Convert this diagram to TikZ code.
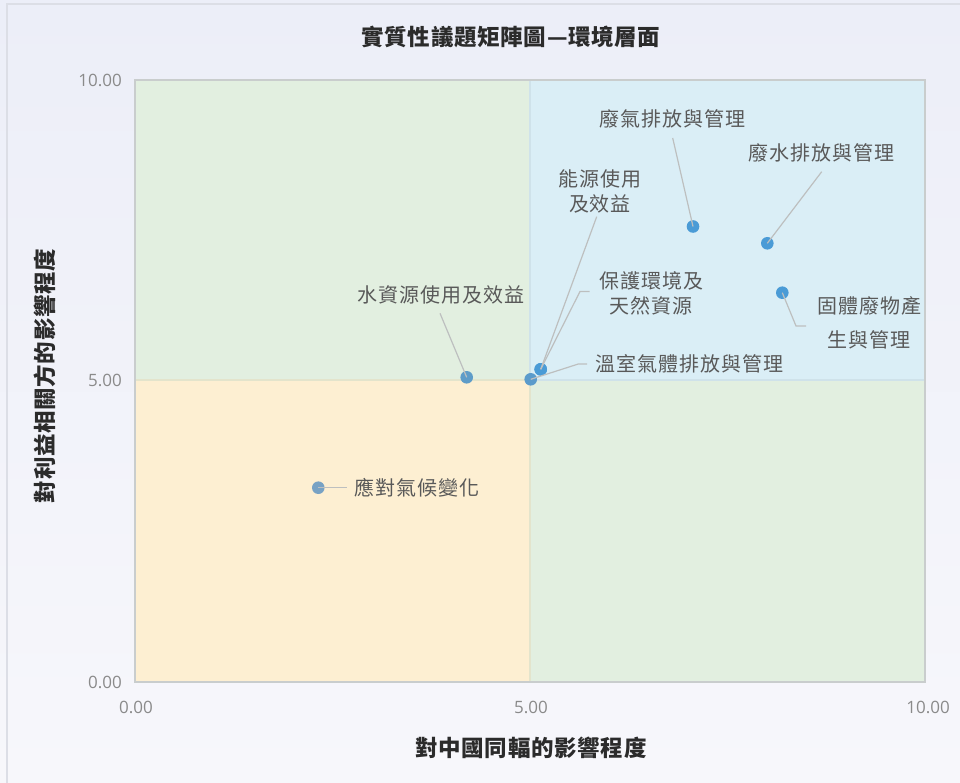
\documentclass[tikz,border=0pt]{standalone}
\usepackage{fontspec}
\setmainfont{Noto Sans CJK TC}
\newfontfamily\lblfont[LetterSpace=5]{Noto Sans CJK TC}
\newfontfamily\ttlfont[LetterSpace=3]{Noto Sans CJK TC}
\newfontfamily\tickfont{Open Sans}
\definecolor{bgtop}{HTML}{ECEEF8}
\definecolor{bgbot}{HTML}{F7F7FB}
\definecolor{framec}{HTML}{DCDEE6}
\definecolor{qgreen}{HTML}{E2EFE0}
\definecolor{qblue}{HTML}{DAEEF6}
\definecolor{qyellow}{HTML}{FDEFD2}
\definecolor{divc}{HTML}{E3E4CC}
\definecolor{divv}{HTML}{CFE2EA}
\definecolor{borderc}{HTML}{C9CDCD}
\definecolor{dotblue}{HTML}{4A9BD6}
\definecolor{dotgreen}{HTML}{5E9CC8}
\definecolor{dotyellow}{HTML}{78A2C4}
\definecolor{dotmid}{HTML}{5B9BCB}
\definecolor{leaderc}{HTML}{BDBFBF}
\definecolor{lblc}{HTML}{595959}
\definecolor{tickc}{HTML}{8A8A8A}
\definecolor{titlec}{HTML}{2B2B2B}
\begin{document}
\begin{tikzpicture}[x=1pt,y=-1pt,
  dot/.style={circle,inner sep=0pt,minimum size=12.6pt,draw=none},
  leader/.style={draw=leaderc,line width=1.2pt},
  lbl/.style={text=lblc,inner sep=0pt,align=center,font=\lblfont\fontsize{20}{25}\selectfont},
  tick/.style={text=tickc,inner sep=0pt,font=\tickfont\fontsize{17}{20}\selectfont},
  ttl/.style={text=titlec,inner sep=0pt,font=\ttlfont\bfseries\fontsize{22.5}{24}\selectfont}]
\useasboundingbox (0,0) rectangle (960,783);
\shade[top color=bgtop,bottom color=bgbot] (0,0) rectangle (960,783);
\draw[framec,line width=1.5pt] (7,783) -- (7,4) -- (960,4);
% quadrants
\fill[qgreen] (135,80) rectangle (530,380);
\fill[qblue] (530,80) rectangle (925,380);
\fill[qyellow] (135,380) rectangle (530,682);
\fill[qgreen] (530,380) rectangle (925,682);
\draw[divc,line width=1.5pt] (135,380) -- (530,380);
\draw[divv,line width=1.5pt] (530,380) -- (925,380);
\draw[divv,line width=1.5pt] (530,80) -- (530,380);
\draw[divc,line width=1.5pt] (530,380) -- (530,682);
\draw[borderc,line width=1.5pt] (135,80) rectangle (925,682);
% title and axes
\node[ttl] (title) at (511,37) {實質性議題矩陣圖—環境層面};
\node[ttl] (xtitle) at (531,748) {對中國同輻的影響程度};
\node[ttl,rotate=90] (ytitle) at (45,376) {對利益相關方的影響程度};
\node[tick,anchor=east] (y10) at (122,80) {10.00};
\node[tick,anchor=east] (y5) at (122,380) {5.00};
\node[tick,anchor=east] (y0) at (122,682) {0.00};
\node[tick] (x0) at (136,707) {0.00};
\node[tick] (x5) at (531,707) {5.00};
\node[tick] (x10) at (928,707) {10.00};
% points
\node[dot,fill=dotblue] (p1) at (693,226.5) {};
\node[dot,fill=dotblue] (p2) at (767.3,243.3) {};
\node[dot,fill=dotblue] (p3) at (782.3,292.7) {};
\node[dot,fill=dotblue] (p4) at (540.7,369.3) {};
\node[dot,fill=dotblue] (p5) at (540.7,369.3) {};
\node[dot,fill=dotmid] (p6) at (530.7,379.3) {};
\node[dot,fill=dotgreen] (p7) at (466.7,377.3) {};
\node[dot,fill=dotyellow] (p8) at (318.3,487.7) {};
% labels
\node[lbl] (l1) at (672,118.5) {廢氣排放與管理};
\node[lbl] (l2) at (821.5,153) {廢水排放與管理};
\node[lbl] (l3) at (869,323) {固體廢物產\\[9pt]生與管理};
\node[lbl] (l4) at (600,191.5) {能源使用\\及效益};
\node[lbl] (l5) at (651,293.5) {保護環境及\\天然資源};
\node[lbl] (l6) at (689.5,364) {溫室氣體排放與管理};
\node[lbl] (l7) at (440.5,295) {水資源使用及效益};
\node[lbl] (l8) at (417,488) {應對氣候變化};
% leader ends
\coordinate (e1) at (672.7,138);
\coordinate (e2) at (821.7,171.7);
\coordinate (e3a) at (796,326);
\coordinate (e3b) at (806,326);
\coordinate (e4) at (596.7,216.7);
\coordinate (e5a) at (580,291.5);
\coordinate (e5b) at (589.5,291.5);
\coordinate (e6a) at (578.3,364);
\coordinate (e6b) at (587,364);
\coordinate (e7) at (440,313.3);
\coordinate (e8) at (346.7,487.7);
% leaders
\draw[leader] (e1) -- (p1.center);
\draw[leader] (e2) -- (p2.center);
\draw[leader] (p3.center) -- (e3a) -- (e3b);
\draw[leader] (e4) -- (p4.center);
\draw[leader] (e5b) -- (e5a) -- (p5.center);
\draw[leader] (e6b) -- (e6a) -- (p6.center);
\draw[leader] (e7) -- (p7.center);
\draw[leader] (p8.center) -- (e8);
\end{tikzpicture}
\end{document}
